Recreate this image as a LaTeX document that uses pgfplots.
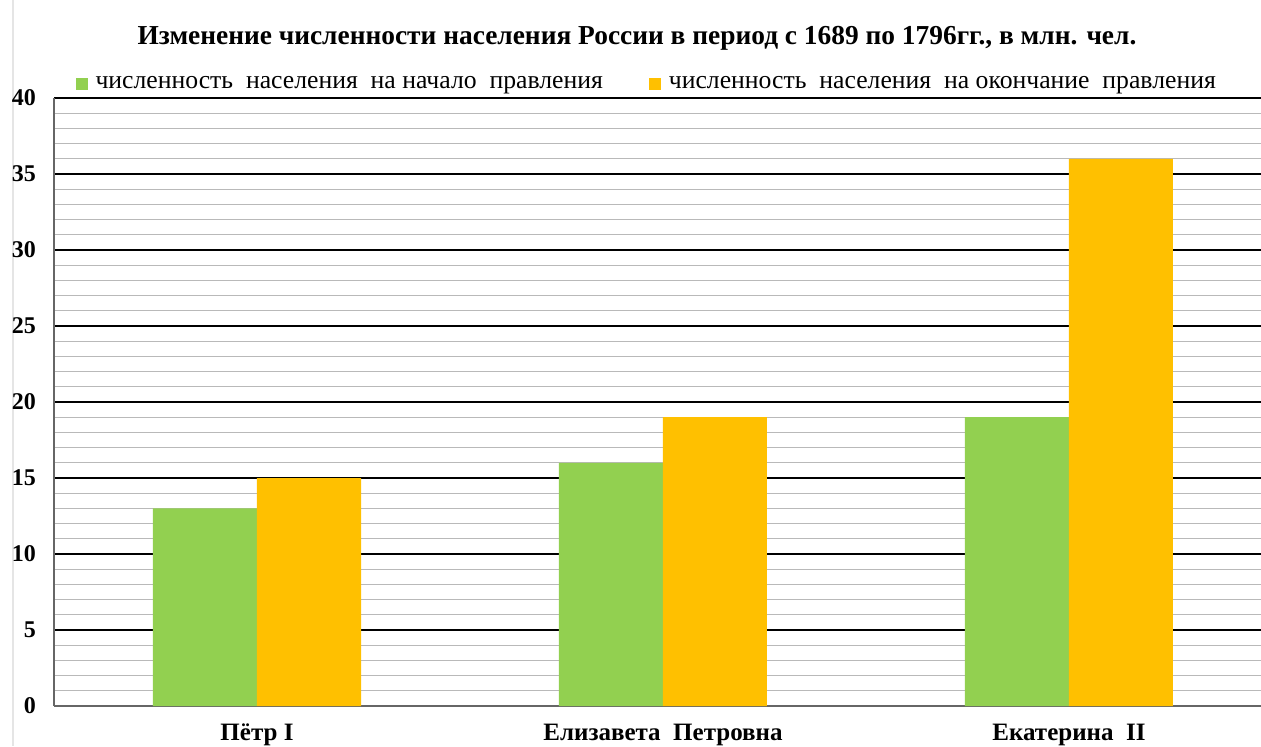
\documentclass[border=0pt]{standalone}
\usepackage{pgfplots}
\pgfplotsset{compat=1.18}
\usepackage{fontspec}
\setmainfont{Liberation Serif}
\definecolor{cgreen}{RGB}{146,208,80}
\definecolor{corange}{RGB}{255,192,0}
\begin{document}
\begin{tikzpicture}
\useasboundingbox (-27pt,-20pt) rectangle (603.5pt,353pt);
\draw[gray!20, line width=0.6pt] (-20.5pt,-20pt) -- (-20.5pt,353pt);
\begin{axis}[
  at={(0,0)}, anchor=south west,
  scale only axis, width=603.5pt, height=304pt,
  xmin=-0.5, xmax=2.473, ymin=0, ymax=40,
  axis lines*=left,
  axis line style={draw=gray!80!black, line width=0.6pt},
  ytick={0,5,...,40},
  minor y tick num=4,
  ymajorgrids, yminorgrids,
  major grid style={black, line width=0.6pt},
  minor grid style={gray!55, line width=0.6pt},
  major tick length=0pt, minor tick length=0pt,
  xtick={0,1,2},
  xticklabels={Пётр I, Елизавета~ Петровна, Екатерина~ II},
  xticklabel style={font=\fontsize{12.5}{14}\selectfont\bfseries, yshift=-5.5pt},
  yticklabel style={font=\fontsize{12}{14}\selectfont\bfseries, xshift=-5.5pt},
  /pgf/number format/assume math mode=true,
  ybar, bar width=52pt,
  clip=false,
  legend columns=2,
  legend style={draw=none, fill=none, at={(0.0175,1.003)}, anchor=south west,
    font=\fontsize{12.85}{14}\selectfont, column sep=2pt, inner sep=0pt,
    /tikz/every even column/.append style={column sep=21pt}},
  legend image code/.code={\fill[#1] (0pt,-3pt) rectangle (6pt,3pt);},
  title={Изменение численности населения России в период с 1689 по 1796гг., в млн. чел.},
  title style={font=\fontsize{13.7}{15}\selectfont\bfseries, at={(0.483,1)}, anchor=center, yshift=24pt},
]
\addplot[fill=cgreen, draw=none, bar shift=-26pt] coordinates {(0,13) (1,16) (2,19)};
\addplot[fill=corange, draw=none, bar shift=26pt] coordinates {(0,15) (1,19) (2,36)};
\legend{численность~ населения~ на начало~ правления, численность~ населения~ на окончание~ правления}
\end{axis}
\end{tikzpicture}
\end{document}
